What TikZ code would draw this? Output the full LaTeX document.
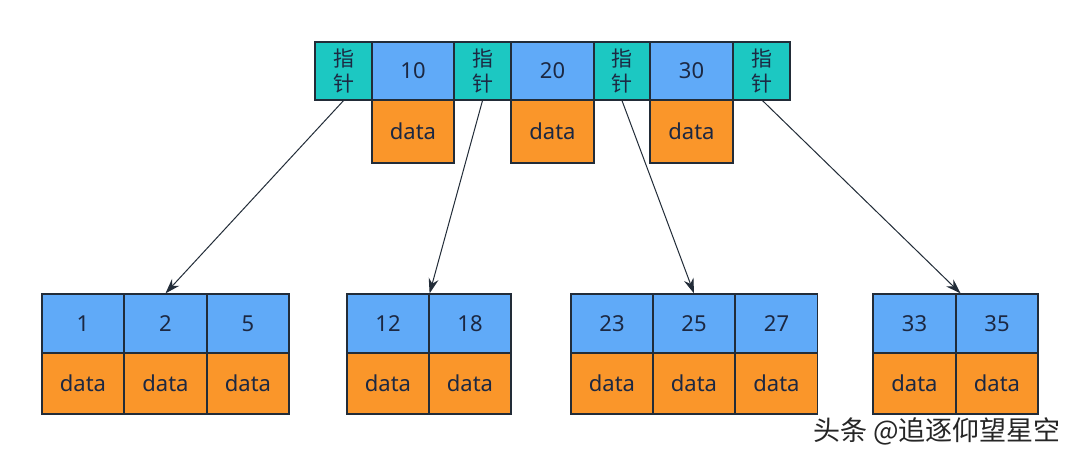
\documentclass[tikz,border=0pt]{standalone}
\usepackage{fontspec}
\setmainfont{Noto Sans}
\newfontfamily\cjk{Noto Sans CJK SC}
\usetikzlibrary{arrows.meta}
\definecolor{tealc}{RGB}{28,200,194}
\definecolor{bluec}{RGB}{96,170,248}
\definecolor{orangec}{RGB}{250,150,42}
\definecolor{edgec}{RGB}{34,44,56}
\definecolor{txtc}{RGB}{28,40,66}
\tikzset{
  cellbase/.style={draw=edgec, line width=1.2pt, inner sep=0pt, text=txtc, font=\fontsize{22}{24}\selectfont},
  ptrcell/.style={cellbase, fill=tealc, minimum height=58pt, font=\cjk\fontsize{21}{25}\selectfont, align=center},
  keycell/.style={cellbase, fill=bluec},
  datacell/.style={cellbase, fill=orangec},
  link/.style={draw=edgec, line width=1pt, -{Stealth[length=15pt,width=10pt]}},
}
\begin{document}
\begin{tikzpicture}[x=1pt,y=-1pt]
\useasboundingbox[fill=white] (0,0) rectangle (1080,457);
% root node
\node[ptrcell, minimum width=57pt] (p1) at (343.5,71) {指\\针};
\node[keycell, minimum width=82pt, minimum height=58pt] (k1) at (413,71) {10};
\node[ptrcell, minimum width=57pt] (p2) at (482.5,71) {指\\针};
\node[keycell, minimum width=83pt, minimum height=58pt] (k2) at (552.5,71) {20};
\node[ptrcell, minimum width=56pt] (p3) at (622,71) {指\\针};
\node[keycell, minimum width=83pt, minimum height=58pt] (k3) at (691.5,71) {30};
\node[ptrcell, minimum width=57pt] (p4) at (761.5,71) {指\\针};
\node[datacell, minimum width=82pt, minimum height=63pt] (d1) at (413,131.5) {data};
\node[datacell, minimum width=83pt, minimum height=63pt] (d2) at (552.5,131.5) {data};
\node[datacell, minimum width=83pt, minimum height=63pt] (d3) at (691.5,131.5) {data};
% leaf 1
\node[keycell, minimum width=82pt, minimum height=59pt] (l1a) at (83,323.5) {1};
\node[keycell, minimum width=83pt, minimum height=59pt] (l1b) at (165.5,323.5) {2};
\node[keycell, minimum width=82pt, minimum height=59pt] (l1c) at (248,323.5) {5};
\node[datacell, minimum width=82pt, minimum height=61pt] (m1a) at (83,383.5) {data};
\node[datacell, minimum width=83pt, minimum height=61pt] (m1b) at (165.5,383.5) {data};
\node[datacell, minimum width=82pt, minimum height=61pt] (m1c) at (248,383.5) {data};
% leaf 2
\node[keycell, minimum width=82pt, minimum height=59pt] (l2a) at (388,323.5) {12};
\node[keycell, minimum width=82pt, minimum height=59pt] (l2b) at (470,323.5) {18};
\node[datacell, minimum width=82pt, minimum height=61pt] (m2a) at (388,383.5) {data};
\node[datacell, minimum width=82pt, minimum height=61pt] (m2b) at (470,383.5) {data};
% leaf 3
\node[keycell, minimum width=82pt, minimum height=59pt] (l3a) at (612,323.5) {23};
\node[keycell, minimum width=82pt, minimum height=59pt] (l3b) at (694,323.5) {25};
\node[keycell, minimum width=82pt, minimum height=59pt] (l3c) at (776.5,323.5) {27};
\node[datacell, minimum width=82pt, minimum height=61pt] (m3a) at (612,383.5) {data};
\node[datacell, minimum width=82pt, minimum height=61pt] (m3b) at (694,383.5) {data};
\node[datacell, minimum width=82pt, minimum height=61pt] (m3c) at (776.5,383.5) {data};
% leaf 4
\node[keycell, minimum width=83pt, minimum height=59pt] (l4a) at (914.5,323.5) {33};
\node[keycell, minimum width=82pt, minimum height=59pt] (l4b) at (997,323.5) {35};
\node[datacell, minimum width=83pt, minimum height=61pt] (m4a) at (914.5,383.5) {data};
\node[datacell, minimum width=82pt, minimum height=61pt] (m4b) at (997,383.5) {data};
% links
\draw[link] (p1.south) -- (l1b.north);
\draw[link] (p2.south) -- (l2a.north east);
\draw[link] (p3.south) -- (l3b.north);
\draw[link] ([xshift=1pt]p4.south) -- ([xshift=4pt]l4a.north east);
% watermark
\node[font=\cjk\fontsize{27}{28}\selectfont, text=black!85, anchor=west, inner sep=0pt] (wm) at (813,431) {头条 @追逐仰望星空};
\end{tikzpicture}
\end{document}
